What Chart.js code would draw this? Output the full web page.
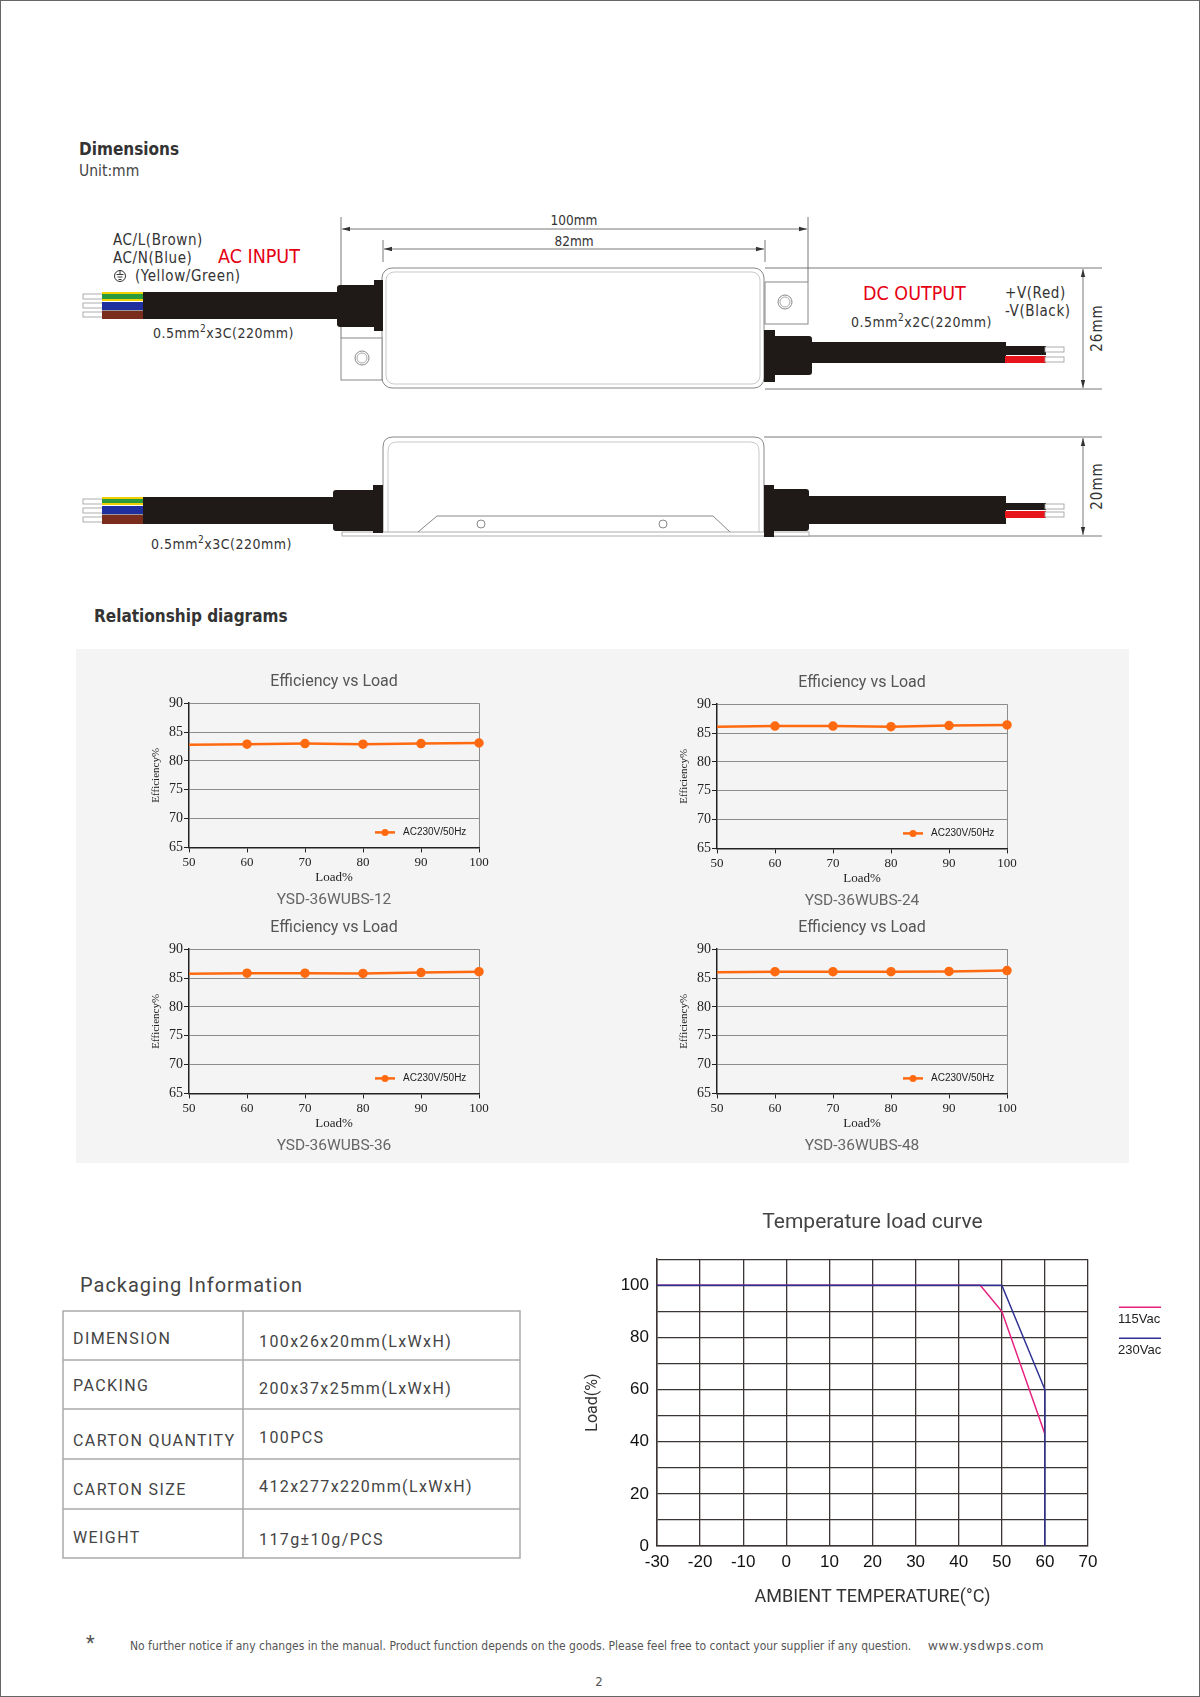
<!DOCTYPE html>
<html>
<head>
<meta charset="utf-8">
<title>YSD-36WUBS</title>
<script src="https://cdn.jsdelivr.net/npm/chart.js@4.4.1/dist/chart.umd.min.js"></script>
<style>
  body { margin: 0; background: #fff; }
  #page { position: relative; width: 1200px; height: 1697px; overflow: hidden; background: #fff; }
  #page svg.bg { position: absolute; left: 0; top: 0; }
  .chart { position: absolute; }
  .cond { font-family: "DejaVu Sans Condensed", "DejaVu Sans", sans-serif; }
  .din { font-family: Roboto, "Noto Sans", sans-serif; }
</style>
</head>
<body>
<div id="page">
<svg class="bg" width="1200" height="1697" xmlns="http://www.w3.org/2000/svg">
  <defs>
    <marker id="arr" markerWidth="8" markerHeight="6" refX="8" refY="3" orient="auto-start-reverse" markerUnits="userSpaceOnUse">
      <path d="M0,0.8 L8,3 L0,5.2 z" fill="#333"/>
    </marker>
  </defs>
  <rect x="0.5" y="0.5" width="1199" height="1696" fill="none" stroke="#666"/>

  <!-- Dimensions -->
  <g class="cond">
    <text x="79" y="155" font-size="17" font-weight="bold" fill="#333">Dimensions</text>
    <text x="79" y="176" font-size="15.5" fill="#444">Unit:mm</text>
  </g>

  <!-- dimension lines -->
  <g stroke="#555" stroke-width="0.8" fill="none">
    <line x1="341" y1="217" x2="341" y2="338"/>
    <line x1="808" y1="217" x2="808" y2="282"/>
    <line x1="342" y1="229" x2="807" y2="229" marker-start="url(#arr)" marker-end="url(#arr)"/>
    <line x1="383" y1="240" x2="383" y2="262"/>
    <line x1="765" y1="240" x2="765" y2="262"/>
    <line x1="384" y1="249" x2="764" y2="249" marker-start="url(#arr)" marker-end="url(#arr)"/>
    <line x1="765" y1="268" x2="1102" y2="268"/>
    <line x1="765" y1="389" x2="1102" y2="389"/>
    <line x1="1083" y1="269" x2="1083" y2="388" marker-start="url(#arr)" marker-end="url(#arr)"/>
    <line x1="764" y1="437" x2="1102" y2="437"/>
    <line x1="764" y1="536" x2="1102" y2="536"/>
    <line x1="1083" y1="438" x2="1083" y2="535" marker-start="url(#arr)" marker-end="url(#arr)"/>
  </g>

  <!-- top view -->
  <rect x="382" y="268" width="382" height="120" rx="10" fill="#fff" stroke="#888"/>
  <rect x="386" y="272" width="374" height="112" rx="8" fill="none" stroke="#bbb" stroke-width="0.8"/>
  <rect x="765" y="282" width="43" height="42" fill="#fff" stroke="#888"/>
  <circle cx="785" cy="302" r="7" fill="none" stroke="#888"/>
  <circle cx="785" cy="302" r="5" fill="none" stroke="#aaa"/>
  <rect x="341" y="338" width="41" height="42" fill="#fff" stroke="#888"/>
  <circle cx="362" cy="358" r="7" fill="none" stroke="#888"/>
  <circle cx="362" cy="358" r="5" fill="none" stroke="#aaa"/>

  <g fill="#1f1a17">
    <rect x="143" y="292" width="196" height="27"/>
    <rect x="337" y="285" width="40" height="42" rx="3"/>
    <rect x="374" y="280" width="9" height="51"/>
    <rect x="764" y="330" width="11" height="52"/>
    <rect x="772" y="336" width="40" height="39" rx="3"/>
    <rect x="810" y="342" width="196" height="21"/>
    <rect x="1005" y="346" width="41" height="9"/>
  </g>
  <rect x="1005" y="356" width="41" height="7" fill="#e8141c"/>
  <g fill="#fff" stroke="#999" stroke-width="0.8">
    <rect x="83" y="294" width="20" height="5"/>
    <rect x="83" y="303" width="20" height="5"/>
    <rect x="83" y="312" width="20" height="5"/>
    <rect x="1045" y="347" width="19" height="5"/>
    <rect x="1045" y="357" width="19" height="5"/>
  </g>
  <rect x="102" y="292" width="41" height="9" fill="#2a9a3a"/>
  <rect x="102" y="292" width="41" height="2" fill="#f0d000"/>
  <rect x="102" y="299" width="41" height="2" fill="#f0d000"/>
  <rect x="102" y="302" width="41" height="8" fill="#1f2f9e"/>
  <rect x="102" y="310" width="41" height="1" fill="#999"/>
  <rect x="102" y="311" width="41" height="8" fill="#7a2d1c"/>

  <!-- side view -->
  <path d="M383,535 V447 Q383,437 393,437 H754 Q764,437 764,447 V535" fill="#fff" stroke="#888"/>
  <path d="M388,532 V451 Q388,442 397,442 H750 Q759,442 759,451 V532" fill="none" stroke="#bbb" stroke-width="0.8"/>
  <rect x="342" y="532" width="467" height="4" fill="#fff" stroke="#999" stroke-width="0.8"/>
  <polyline points="418,532 437,516 713,516 730,532" fill="none" stroke="#888"/>
  <circle cx="481" cy="524" r="4" fill="none" stroke="#888"/>
  <circle cx="663" cy="524" r="4" fill="none" stroke="#888"/>
  <g fill="#1f1a17">
    <rect x="143" y="497" width="194" height="27"/>
    <rect x="333" y="490" width="44" height="41" rx="3"/>
    <rect x="373" y="485" width="10" height="48"/>
    <rect x="764" y="485" width="10" height="52"/>
    <rect x="771" y="489" width="38" height="42" rx="3"/>
    <rect x="807" y="496" width="199" height="28"/>
    <rect x="1005" y="503" width="41" height="7"/>
  </g>
  <rect x="1005" y="511" width="41" height="7" fill="#e8141c"/>
  <g fill="#fff" stroke="#999" stroke-width="0.8">
    <rect x="83" y="499" width="20" height="5"/>
    <rect x="83" y="508" width="20" height="5"/>
    <rect x="83" y="517" width="20" height="5"/>
    <rect x="1045" y="504" width="19" height="5"/>
    <rect x="1045" y="512" width="19" height="5"/>
  </g>
  <rect x="102" y="497" width="41" height="8" fill="#2a9a3a"/>
  <rect x="102" y="497" width="41" height="2" fill="#f0d000"/>
  <rect x="102" y="503" width="41" height="2" fill="#f0d000"/>
  <rect x="102" y="506" width="41" height="8" fill="#1f2f9e"/>
  <rect x="102" y="514" width="41" height="1" fill="#999"/>
  <rect x="102" y="515" width="41" height="9" fill="#7a2d1c"/>

  <!-- drawing labels -->
  <g class="cond" fill="#333" font-size="15">
    <text x="113" y="245" letter-spacing="0.6">AC/L(Brown)</text>
    <text x="113" y="263" letter-spacing="0.6">AC/N(Blue)</text>
    <text x="135" y="281" letter-spacing="0.6">(Yellow/Green)</text>
    <text x="218" y="263" font-size="19.5" fill="#e60012">AC INPUT</text>
    <text x="153" y="338" font-size="14" letter-spacing="0.5">0.5mm<tspan dy="-6" font-size="10">2</tspan><tspan dy="6">x3C(220mm)</tspan></text>
    <text x="574" y="225" font-size="13.5" text-anchor="middle">100mm</text>
    <text x="574" y="246" font-size="13.5" text-anchor="middle">82mm</text>
    <text x="863" y="300" font-size="19.5" fill="#e60012">DC OUTPUT</text>
    <text x="1005" y="298" letter-spacing="0.6">+V(Red)</text>
    <text x="1005" y="316" letter-spacing="0.6">-V(Black)</text>
    <text x="851" y="327" font-size="14" letter-spacing="0.5">0.5mm<tspan dy="-6" font-size="10">2</tspan><tspan dy="6">x2C(220mm)</tspan></text>
    <text transform="translate(1097,328) rotate(-90)" text-anchor="middle" dominant-baseline="middle" letter-spacing="1">26mm</text>
    <text transform="translate(1097,486) rotate(-90)" text-anchor="middle" dominant-baseline="middle" letter-spacing="1">20mm</text>
    <text x="151" y="549" font-size="14" letter-spacing="0.5">0.5mm<tspan dy="-6" font-size="10">2</tspan><tspan dy="6">x3C(220mm)</tspan></text>
  </g>
  <g fill="none" stroke="#333" stroke-width="1">
    <circle cx="120" cy="276" r="5.5"/>
    <line x1="120" y1="270.5" x2="120" y2="274.5"/>
    <line x1="116.5" y1="274.5" x2="123.5" y2="274.5"/>
    <line x1="117.5" y1="277" x2="122.5" y2="277"/>
    <line x1="118.5" y1="279.5" x2="121.5" y2="279.5"/>
  </g>

  <text class="cond" x="94" y="622" font-size="17" font-weight="bold" fill="#333">Relationship diagrams</text>
  <rect x="76" y="649" width="1053" height="514" fill="#f4f4f4"/>

  <!-- packaging -->
  <g class="din" fill="#444">
    <text x="80" y="1292" font-size="20" letter-spacing="1">Packaging Information</text>
    <g font-size="16" letter-spacing="1.4">
      <text x="73" y="1344">DIMENSION</text>
      <text x="259" y="1347">100x26x20mm(LxWxH)</text>
      <text x="73" y="1391">PACKING</text>
      <text x="259" y="1394">200x37x25mm(LxWxH)</text>
      <text x="73" y="1446">CARTON QUANTITY</text>
      <text x="259" y="1443">100PCS</text>
      <text x="73" y="1495">CARTON SIZE</text>
      <text x="259" y="1492">412x277x220mm(LxWxH)</text>
      <text x="73" y="1543">WEIGHT</text>
      <text x="259" y="1545">117g±10g/PCS</text>
    </g>
  </g>
  <g stroke="#aaa" stroke-width="1.5" fill="none">
    <rect x="63" y="1311" width="457" height="247"/>
    <line x1="63" y1="1360" x2="520" y2="1360"/>
    <line x1="63" y1="1409" x2="520" y2="1409"/>
    <line x1="63" y1="1459" x2="520" y2="1459"/>
    <line x1="63" y1="1509" x2="520" y2="1509"/>
    <line x1="243" y1="1311" x2="243" y2="1558"/>
  </g>

  <!-- footer -->
  <text x="86" y="1650" font-size="20" fill="#555" class="din">*</text>
  <text class="cond" x="130" y="1650" font-size="12" fill="#555">No further notice if any changes in the manual. Product function depends on the goods. Please feel free to contact your supplier if any question.</text>
  <text class="din" x="928" y="1650" font-size="13" fill="#555" letter-spacing="0.8">www.ysdwps.com</text>
  <text class="cond" x="599" y="1686" font-size="13" fill="#555" text-anchor="middle">2</text>
</svg>

<div class="chart" style="left:100px;top:655px;width:400px;height:255px"><canvas id="eff12"></canvas></div>
<div class="chart" style="left:628px;top:656px;width:400px;height:255px"><canvas id="eff24"></canvas></div>
<div class="chart" style="left:100px;top:901px;width:400px;height:255px"><canvas id="eff36"></canvas></div>
<div class="chart" style="left:628px;top:901px;width:400px;height:255px"><canvas id="eff48"></canvas></div>
<div class="chart" style="left:570px;top:1195px;width:620px;height:421px"><canvas id="tempCurve"></canvas></div>
</div>

<script>
// efficiency vs load
const loadPct = [50, 60, 70, 80, 90, 100];
const eff12 = [82.8, 82.9, 83.0, 82.9, 83.0, 83.1];
const eff24 = [86.1, 86.2, 86.2, 86.1, 86.3, 86.4];
const eff36 = [85.75, 85.85, 85.85, 85.8, 85.95, 86.1];
const eff48 = [86.0, 86.1, 86.1, 86.1, 86.15, 86.3];
const effTicks = [65, 70, 75, 80, 85, 90];
const loadTicks = [50, 60, 70, 80, 90, 100];

// temperature derating
const temp115 = [-30, 45, 50, 60];
const load115 = [100, 100, 90, 43];
const temp230 = [-30, 50, 60, 60];
const load230 = [100, 100, 60, 0];
const tempTicks = [-30, -20, -10, 0, 10, 20, 30, 40, 50, 60, 70];
const loadPctTicks = [0, 20, 40, 60, 80, 100];

const orange = "#ff6a10";
const gridGrey = "#8c8c8c";
const axisBlack = "#222";
const serif = "'Liberation Serif', 'DejaVu Serif', serif";

const effLegend = {
  id: "effLegend",
  afterDatasetsDraw(chart) {
    const { ctx, chartArea } = chart;
    const ds = chart.data.datasets[0];
    const y = chartArea.bottom - 15;
    const x0 = chartArea.right - 104;
    ctx.save();
    ctx.strokeStyle = ds.borderColor;
    ctx.lineWidth = 2.5;
    ctx.beginPath();
    ctx.moveTo(x0, y);
    ctx.lineTo(x0 + 20, y);
    ctx.stroke();
    ctx.fillStyle = ds.borderColor;
    ctx.beginPath();
    ctx.arc(x0 + 10, y, 3.5, 0, Math.PI * 2);
    ctx.fill();
    ctx.fillStyle = "#222";
    ctx.font = "10px 'Liberation Sans', Arial, sans-serif";
    ctx.textBaseline = "middle";
    ctx.fillText(ds.label, x0 + 28, y);
    ctx.restore();
  },
};

const tempLegend = {
  id: "tempLegend",
  afterDraw(chart) {
    const { ctx, chartArea } = chart;
    const x0 = chartArea.right + 31;
    ctx.save();
    chart.data.datasets.forEach((ds, i) => {
      const y = chartArea.top + 48 + i * 31;
      ctx.strokeStyle = ds.borderColor;
      ctx.lineWidth = 1.5;
      ctx.beginPath();
      ctx.moveTo(x0, y);
      ctx.lineTo(x0 + 42, y);
      ctx.stroke();
      ctx.fillStyle = "#222";
      ctx.font = "13px 'Liberation Sans', Arial, sans-serif";
      ctx.textBaseline = "middle";
      ctx.fillText(ds.label, x0 - 1, y + 12);
    });
    ctx.restore();
  },
};

function effChart(id, values, model) {
  return new Chart(document.getElementById(id), {
    type: "line",
    data: {
      datasets: [
        {
          label: "AC230V/50Hz",
          data: loadPct.map((x, i) => ({ x: x, y: values[i] })),
          borderColor: orange,
          backgroundColor: orange,
          borderWidth: 2.5,
          pointRadius: (c) => (c.dataIndex === 0 ? 0 : 3.5),
          pointHoverRadius: 0,
          tension: 0,
          clip: false,
        },
      ],
    },
    options: {
      responsive: true,
      maintainAspectRatio: false,
      animation: false,
      events: [],
      layout: { padding: { right: 21 } },
      plugins: {
        legend: { display: false },
        tooltip: { enabled: false },
        title: {
          display: true,
          text: "Efficiency vs Load",
          fullSize: false,
          color: "#555",
          font: { family: "Roboto", size: 16, weight: "normal" },
          padding: { top: 17, bottom: 12 },
        },
        subtitle: {
          display: true,
          position: "bottom",
          text: model,
          fullSize: false,
          color: "#666",
          font: { family: "Roboto", size: 15.5, weight: "normal" },
          padding: { top: 0, bottom: 1 },
        },
      },
      scales: {
        x: {
          type: "linear",
          min: loadTicks[0],
          max: loadTicks[loadTicks.length - 1],
          afterBuildTicks: (s) => { s.ticks = loadTicks.map((v) => ({ value: v })); },
          ticks: { color: axisBlack, font: { family: serif, size: 13 }, padding: 2 },
          grid: {
            color: (c) => (c.tick && c.tick.value === 100 ? gridGrey : "rgba(0,0,0,0)"),
            tickColor: axisBlack,
            tickLength: 5,
          },
          border: { color: axisBlack, width: 1.5 },
          title: {
            display: true,
            text: "Load%",
            color: axisBlack,
            font: { family: serif, size: 13 },
            padding: { top: 0, bottom: 5 },
          },
          afterFit: (s) => { s.height = 43; },
        },
        y: {
          min: effTicks[0],
          max: effTicks[effTicks.length - 1],
          afterBuildTicks: (s) => { s.ticks = effTicks.map((v) => ({ value: v })); },
          ticks: { color: axisBlack, font: { family: serif, size: 14 }, padding: 1 },
          grid: { color: gridGrey, tickColor: axisBlack, tickLength: 5 },
          border: { color: axisBlack, width: 1.5 },
          title: {
            display: true,
            text: "Efficiency%",
            color: axisBlack,
            font: { family: serif, size: 11 },
            padding: { top: 50, bottom: 0 },
          },
          afterFit: (s) => { s.width = 89; },
        },
      },
    },
    plugins: [effLegend],
  });
}

effChart("eff12", eff12, "YSD-36WUBS-12");
effChart("eff24", eff24, "YSD-36WUBS-24");
effChart("eff36", eff36, "YSD-36WUBS-36");
effChart("eff48", eff48, "YSD-36WUBS-48");

const gridDark = "#3b3534";

new Chart(document.getElementById("tempCurve"), {
  type: "line",
  data: {
    datasets: [
      {
        label: "115Vac",
        data: temp115.map((x, i) => ({ x: x, y: load115[i] })),
        borderColor: "#e6217f",
        borderWidth: 1.5,
        pointRadius: 0,
        tension: 0,
        clip: false,
        order: 1,
      },
      {
        label: "230Vac",
        data: temp230.map((x, i) => ({ x: x, y: load230[i] })),
        borderColor: "#2e3192",
        borderWidth: 1.5,
        pointRadius: 0,
        tension: 0,
        clip: false,
        order: 0,
      },
    ],
  },
  options: {
    responsive: true,
    maintainAspectRatio: false,
    animation: false,
    events: [],
    layout: { padding: { right: 102 } },
    plugins: {
      legend: { display: false },
      tooltip: { enabled: false },
      title: {
        display: true,
        text: "Temperature load curve",
        fullSize: false,
        color: "#444",
        font: { family: "Roboto", size: 21, weight: "normal" },
        padding: { top: 15, bottom: 24 },
      },
    },
    scales: {
      x: {
        type: "linear",
        min: tempTicks[0],
        max: tempTicks[tempTicks.length - 1],
        afterBuildTicks: (s) => { s.ticks = tempTicks.map((v) => ({ value: v })); },
        ticks: { color: "#111", font: { family: "'Liberation Sans', Arial", size: 17 }, padding: 6 },
        grid: { color: gridDark, lineWidth: 1.3, drawTicks: false },
        border: { color: gridDark, width: 1.5 },
        title: {
          display: true,
          text: "AMBIENT TEMPERATURE(°C)",
          color: "#333",
          font: { family: "Roboto", size: 18, weight: "normal" },
          padding: { top: 0, bottom: 8 },
        },
        afterFit: (s) => { s.height = 70; },
      },
      y: {
        min: 0,
        max: 110,
        ticks: {
          stepSize: 10,
          color: "#111",
          font: { family: "'Liberation Sans', Arial", size: 17 },
          padding: 8,
          callback: (v) => (loadPctTicks.includes(v) ? v : ""),
        },
        grid: { color: gridDark, lineWidth: 1.3, drawTicks: false },
        border: { color: gridDark, width: 1.5 },
        title: {
          display: true,
          text: "Load(%)",
          color: "#333",
          font: { family: "Roboto", size: 16, weight: "normal" },
          padding: { top: 13, bottom: 0 },
        },
        afterFit: (s) => { s.width = 87; },
      },
    },
  },
  plugins: [tempLegend],
});
</script>
</body>
</html>
